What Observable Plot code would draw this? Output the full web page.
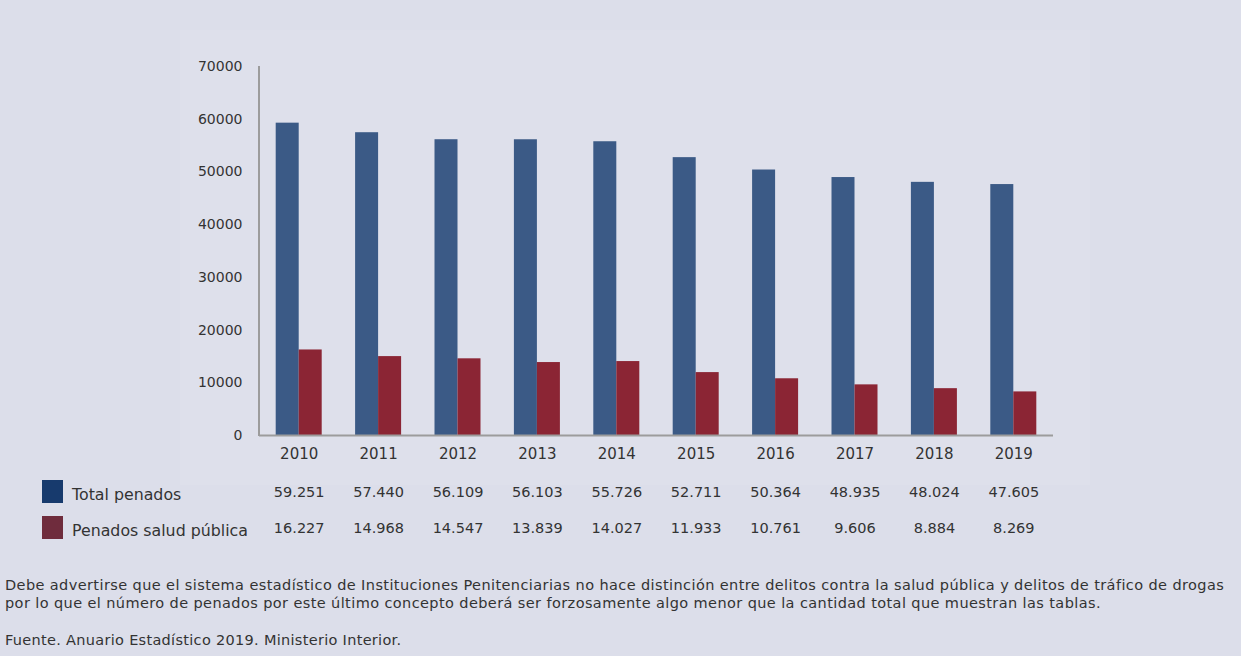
<!DOCTYPE html>
<html>
<head>
<meta charset="utf-8">
<script src="https://cdn.jsdelivr.net/npm/d3@7"></script>
<script src="https://cdn.jsdelivr.net/npm/@observablehq/plot@0.6"></script>
<style>
  html, body { margin: 0; padding: 0; }
  body { width: 1241px; height: 656px; background: #dcdeea; position: relative; overflow: hidden; font-family: "DejaVu Sans", sans-serif; color: #333; }
  #panel { position: absolute; left: 180px; top: 30px; width: 910px; height: 455px; background: #dee0eb; }
  #chart { position: absolute; left: 0; top: 0; }
  .sw { position: absolute; left: 42px; width: 21px; height: 23px; }
  .lab { position: absolute; left: 72px; font-size: 15.8px; line-height: 20px; white-space: nowrap; }
  #notes { position: absolute; left: 5px; top: 576px; font-size: 14.5px; letter-spacing: 0.4px; line-height: 18px; white-space: nowrap; }
  #notes p { margin: 0; }
  #notes p.src { margin-top: 19px; letter-spacing: 0.3px; }
</style>
</head>
<body>
<div id="panel"></div>
<div id="chart"></div>
<div id="legend"></div>
<div id="notes">
  <p>Debe advertirse que el sistema estadístico de Instituciones Penitenciarias no hace distinción entre delitos contra la salud pública y delitos de tráfico de drogas</p>
  <p>por lo que el número de penados por este último concepto deberá ser forzosamente algo menor que la cantidad total que muestran las tablas.</p>
  <p class="src">Fuente. Anuario Estadístico 2019. Ministerio Interior.</p>
</div>
<script>
const years = ["2010","2011","2012","2013","2014","2015","2016","2017","2018","2019"];
const totalPenados = [59251, 57440, 56109, 56103, 55726, 52711, 50364, 48935, 48024, 47605];
const saludPublica = [16227, 14968, 14547, 13839, 14027, 11933, 10761, 9606, 8884, 8269];
const seriesNames = ["Total penados", "Penados salud pública"];
const barColors = ["#3b5a86", "#8b2534"];
const legendColors = ["#173a6d", "#6f2c3d"];
const yTicks = [0, 10000, 20000, 30000, 40000, 50000, 60000, 70000];

const fmt = d3.formatLocale({decimal: ",", thousands: ".", grouping: [3], currency: ["", "€"]}).format(",");

const rows = [totalPenados, saludPublica].map((vals, s) =>
  years.map((year, i) => ({year, serie: seriesNames[s], value: vals[i]}))
);

// layout (styles): plot frame and bar geometry inside each year band
const W = 1241, ML = 259, MR = 188;
const step = (W - ML - MR) / years.length;
const barW = 23;
const outer = (step - 2 * barW) / 2;

const axisLine = (index, scales, values, dimensions) => {
  const ns = "http://www.w3.org/2000/svg";
  const line = document.createElementNS(ns, "line");
  const x = dimensions.marginLeft;
  line.setAttribute("x1", x);
  line.setAttribute("x2", x);
  line.setAttribute("y1", scales.y(70000));
  line.setAttribute("y2", scales.y(0) + 1);
  line.setAttribute("stroke", "#9c9c9c");
  line.setAttribute("stroke-width", 2);
  return line;
};

const chart = Plot.plot({
  width: W,
  height: 560,
  marginLeft: ML,
  marginRight: MR,
  marginTop: 66,
  marginBottom: 125,
  style: {background: "transparent", fontFamily: "DejaVu Sans", fontSize: "14px", color: "#333"},
  x: {domain: years, padding: 0, round: false, axis: null},
  y: {domain: [0, 70000], axis: null},
  color: {domain: seriesNames, range: barColors},
  marks: [
    Plot.barY(rows[0], {x: "year", y: "value", fill: "serie", insetLeft: outer, insetRight: outer + barW}),
    Plot.barY(rows[1], {x: "year", y: "value", fill: "serie", insetLeft: outer + barW, insetRight: outer}),
    Plot.axisY({ticks: yTicks, tickFormat: d => String(d), tickSize: 0, tickPadding: 17, label: null, fill: "#333", fontSize: 14}),
    axisLine,
    Plot.ruleY([0], {stroke: "#9c9c9c", strokeWidth: 2}),
    Plot.text(years, {x: d => d, text: d => d, frameAnchor: "bottom", dy: 23, fontSize: 15, fill: "#333"}),
    Plot.text(rows[0], {x: "year", text: d => fmt(d.value), frameAnchor: "bottom", dy: 61, fontSize: 14.5, fill: "#333"}),
    Plot.text(rows[1], {x: "year", text: d => fmt(d.value), frameAnchor: "bottom", dy: 97, fontSize: 14.5, fill: "#333"})
  ]
});
document.getElementById("chart").appendChild(chart);

const legend = document.getElementById("legend");
seriesNames.forEach((name, i) => {
  const top = i === 0 ? 480 : 516;
  const sw = document.createElement("div");
  sw.className = "sw";
  sw.style.top = top + "px";
  sw.style.background = legendColors[i];
  legend.appendChild(sw);
  const lab = document.createElement("div");
  lab.className = "lab";
  lab.style.top = (top + 5) + "px";
  lab.textContent = name;
  legend.appendChild(lab);
});
</script>
</body>
</html>
